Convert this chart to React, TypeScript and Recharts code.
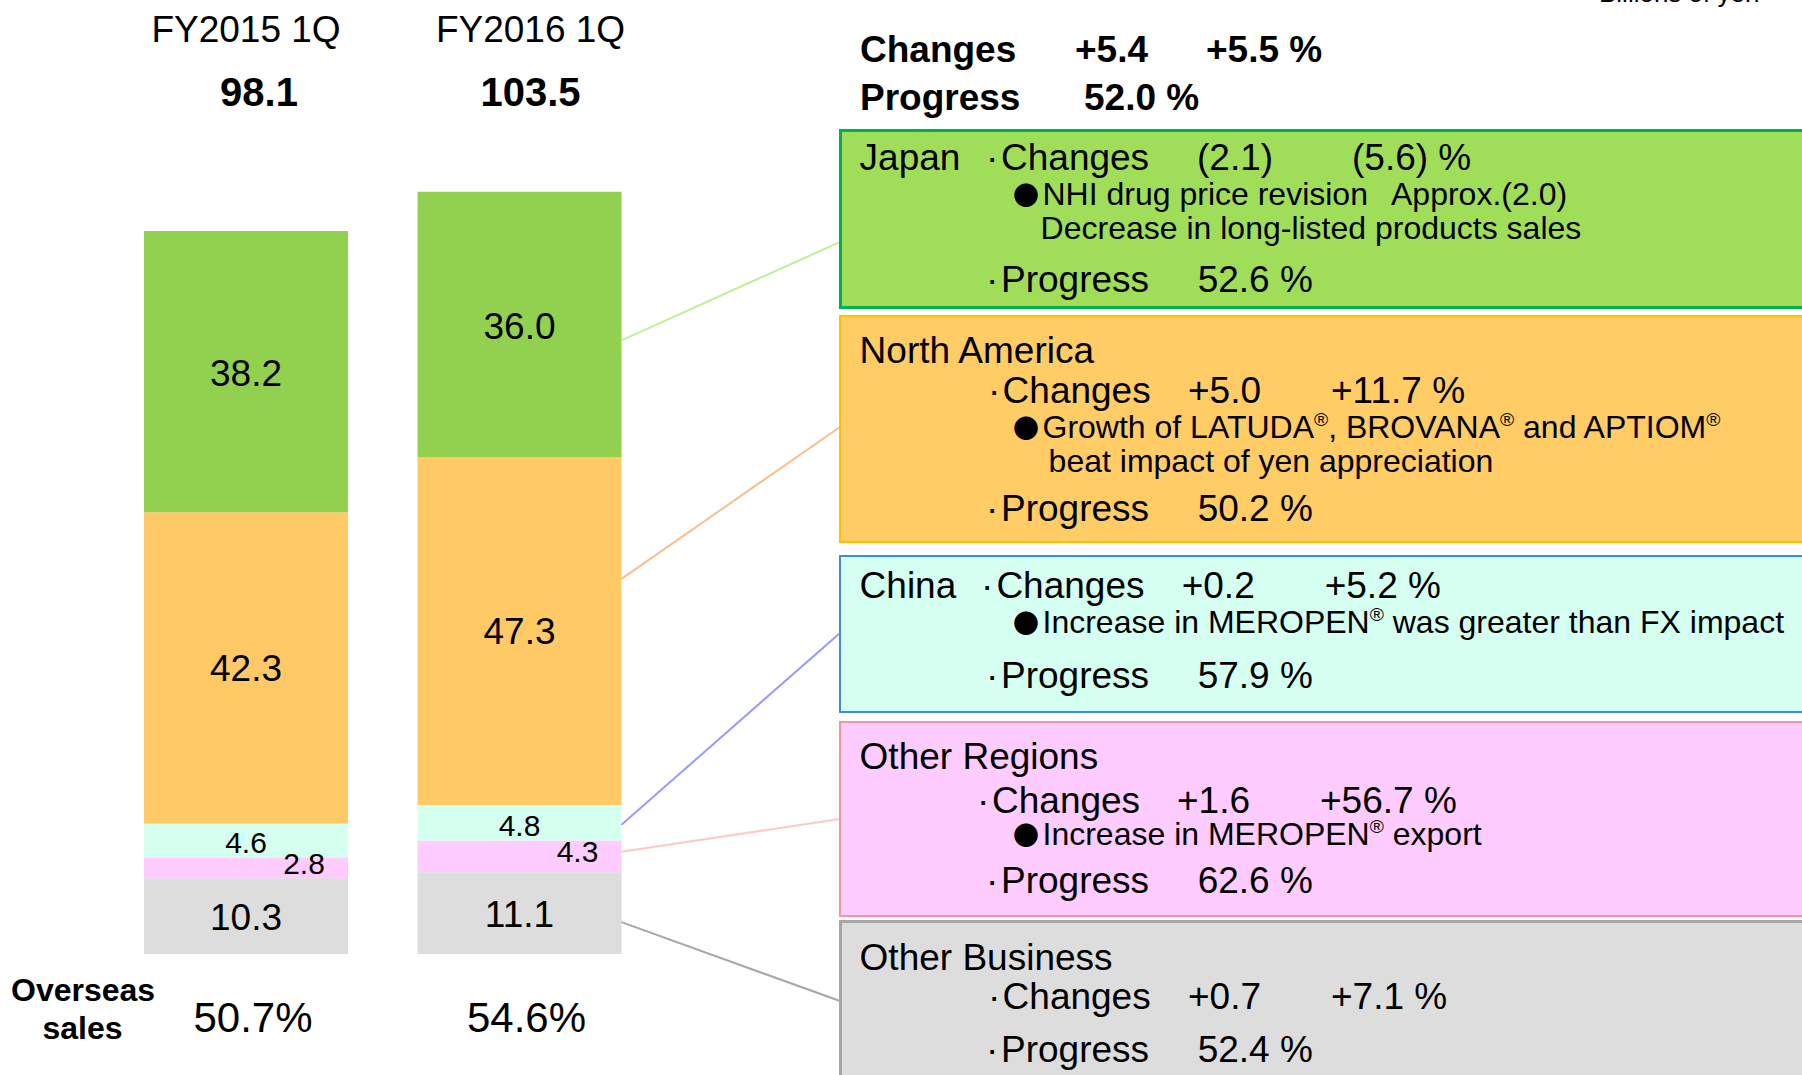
import React from "react";
import { BarChart, Bar, XAxis, YAxis, LabelList } from "recharts";

// values in billions of yen
const categories = ["FY2015 1Q", "FY2016 1Q"];
const totals = [98.1, 103.5];
const japan = [38.2, 36.0];
const northAmerica = [42.3, 47.3];
const china = [4.6, 4.8];
const otherRegions = [2.8, 4.3];
const otherBusiness = [10.3, 11.1];
const overseasShare = ["50.7%", "54.6%"];

const data = categories.map((name, i) => ({
  name,
  total: totals[i],
  japan: japan[i],
  northAmerica: northAmerica[i],
  china: china[i],
  otherRegions: otherRegions[i],
  otherBusiness: otherBusiness[i],
  overseas: overseasShare[i],
}));

const FONT = "'Liberation Sans', Arial, Helvetica, sans-serif";

// bottom to top stack order; anchor/target place the connector lines to the boxes
const series = [
  { key: "otherBusiness", fill: "#DDDDDD", line: "#A6A6A6", anchor: 0.61, target: 1001, size: 37, dx: 0, dy: 1 },
  { key: "otherRegions", fill: "#FFCCFF", line: "#FFC8C8", anchor: 0.35, target: 819, size: 30, dx: 58, dy: -5 },
  { key: "china", fill: "#D5FFEF", line: "#9999FF", anchor: 0.55, target: 633, size: 30, dx: 0, dy: 2 },
  { key: "northAmerica", fill: "#FFCA66", line: "#F8BE8C", anchor: 0.35, target: 427, size: 37, dx: 0, dy: 0 },
  { key: "japan", fill: "#92D050", line: "#C2EE96", anchor: 0.56, target: 242, size: 37, dx: 0, dy: 1 },
];

const BOX_LEFT = 839;

const rect = (props: any) => {
  const vb = props.viewBox || props;
  return {
    x: Number(vb.x ?? props.x),
    y: Number(vb.y ?? props.y),
    w: Number(vb.width ?? props.width),
    h: Number(vb.height ?? props.height),
  };
};

const SegLabel = (props: any) => {
  const { cfg, value, index } = props;
  const { x, y, w, h } = rect(props);
  const cx = x + w / 2 + cfg.dx;
  const cy = y + h / 2 + cfg.dy;
  return (
    <g>
      {index === 1 && (
        <line
          x1={x + w}
          y1={y + h * cfg.anchor}
          x2={BOX_LEFT + 1}
          y2={cfg.target}
          stroke={cfg.line}
          strokeWidth={2}
        />
      )}
      <text
        x={cx}
        y={cy + cfg.size * 0.358}
        textAnchor="middle"
        fontSize={cfg.size}
        fontFamily={FONT}
        fill="#000"
      >
        {Number(value).toFixed(1)}
      </text>
    </g>
  );
};

const titleDx = [0, 11];
const totalDx = [13, 11];

// category name and total above each column
const TopLabel = (props: any) => {
  const { index } = props;
  const { x, w } = rect(props);
  const i = index ?? 0;
  const cx = x + w / 2;
  return (
    <g>
      <text x={cx + titleDx[i]} y={41.7} textAnchor="middle" fontSize={37} fontFamily={FONT} fill="#000">
        {categories[i]}
      </text>
      <text x={cx + totalDx[i]} y={105.8} textAnchor="middle" fontSize={40} fontWeight={700} fontFamily={FONT} fill="#000">
        {totals[i].toFixed(1)}
      </text>
    </g>
  );
};

// overseas share under each column
const BottomLabel = (props: any) => {
  const { index } = props;
  const { x, w } = rect(props);
  const i = index ?? 0;
  return (
    <text x={x + w / 2 + 7} y={1032} textAnchor="middle" fontSize={42} fontFamily={FONT} fill="#000">
      {overseasShare[i]}
    </text>
  );
};

const Txt = ({ x, cy, size = 37, bold = false, font, children }: any) => (
  <div
    style={{
      position: "absolute",
      left: x,
      top: cy - 0.4385 * size,
      fontSize: size,
      lineHeight: `${size * 0.9}px`,
      fontWeight: bold ? 700 : 400,
      fontFamily: font,
      whiteSpace: "nowrap",
      color: "#000",
    }}
  >
    {children}
  </div>
);

const R = () => (
  <span style={{ fontSize: "0.6em", position: "relative", top: "-0.6em", lineHeight: 1 }}>®</span>
);

const Box = ({ top, height, fill, border, bw }: any) => (
  <div
    style={{
      position: "absolute",
      left: BOX_LEFT,
      top,
      width: 1100,
      height,
      boxSizing: "border-box",
      background: fill,
      border: `${bw}px solid ${border}`,
    }}
  />
);

const Dot = ({ x, cy }: any) => <Txt x={x} cy={cy}>·</Txt>;
const Bullet = ({ cy }: any) => (
  <Txt x={1013} cy={cy - 1} size={26} font="'Noto Sans CJK JP', 'DejaVu Sans', sans-serif">●</Txt>
);

export default function App() {
  return (
    <div
      style={{
        position: "absolute",
        left: 0,
        top: 0,
        width: 1802,
        height: 1075,
        overflow: "hidden",
        background: "#fff",
        fontFamily: FONT,
      }}
    >
      <div style={{ position: "absolute", left: 0, top: 0 }}>
        <BarChart
          width={1802}
          height={1075}
          data={data}
          margin={{ top: 144, right: 1146, bottom: 121, left: 109 }}
          barSize={204}
        >
          <XAxis dataKey="name" hide />
          <YAxis hide domain={[0, 110]} type="number" />
          {series.map((s) => (
            <Bar key={s.key} dataKey={s.key} stackId="sales" fill={s.fill} isAnimationActive={false}>
              <LabelList dataKey={s.key} content={(p: any) => <SegLabel {...p} cfg={s} />} />
              {s.key === "japan" && <LabelList dataKey="total" content={(p: any) => <TopLabel {...p} />} />}
              {s.key === "otherBusiness" && (
                <LabelList dataKey="overseas" content={(p: any) => <BottomLabel {...p} />} />
              )}
            </Bar>
          ))}
        </BarChart>
      </div>

      {/* overall summary */}
      <Txt x={1599} cy={-7} size={26}>Billions of yen</Txt>
      <Txt x={860} cy={49.5} bold>Changes</Txt>
      <Txt x={1075} cy={49.5} bold>+5.4</Txt>
      <Txt x={1206} cy={49.5} bold>+5.5 %</Txt>
      <Txt x={860} cy={97.5} bold>Progress</Txt>
      <Txt x={1084} cy={97.5} bold>52.0 %</Txt>

      <Txt x={11} cy={990.5} size={32} bold>Overseas</Txt>
      <Txt x={42.5} cy={1028.5} size={32} bold>sales</Txt>

      {/* Japan */}
      <Box top={129} height={180} fill="#A0DE5A" border="#00B050" bw={3} />
      <Txt x={859.6} cy={157.5}>Japan</Txt>
      <Dot x={986} cy={157.5} />
      <Txt x={1001} cy={157.5}>Changes</Txt>
      <Txt x={1197} cy={157.5}>(2.1)</Txt>
      <Txt x={1352} cy={157.5}>(5.6) %</Txt>
      <Bullet cy={194} />
      <Txt x={1042.5} cy={194} size={32}>NHI drug price revision</Txt>
      <Txt x={1391} cy={194} size={32}>Approx.(2.0)</Txt>
      <Txt x={1040.6} cy={228} size={32}>Decrease in long-listed products sales</Txt>
      <Dot x={986} cy={279.5} />
      <Txt x={1001} cy={279.5}>Progress</Txt>
      <Txt x={1197.7} cy={279.5}>52.6 %</Txt>

      {/* North America */}
      <Box top={315} height={228} fill="#FFCC66" border="#FFC000" bw={2} />
      <Txt x={859.6} cy={350}>North America</Txt>
      <Dot x={988} cy={390} />
      <Txt x={1002.6} cy={390}>Changes</Txt>
      <Txt x={1188} cy={390}>+5.0</Txt>
      <Txt x={1331} cy={390}>+11.7 %</Txt>
      <Bullet cy={427} />
      <Txt x={1042.5} cy={427} size={32}>
        Growth of LATUDA<R />, BROVANA<R /> and APTIOM<R />
      </Txt>
      <Txt x={1048.6} cy={461} size={32}>beat impact of yen appreciation</Txt>
      <Dot x={986} cy={508} />
      <Txt x={1001} cy={508}>Progress</Txt>
      <Txt x={1197.7} cy={508}>50.2 %</Txt>

      {/* China */}
      <Box top={555} height={158} fill="#D5FFF0" border="#3A8EE6" bw={2} />
      <Txt x={859.6} cy={585}>China</Txt>
      <Dot x={981} cy={585} />
      <Txt x={996.4} cy={585}>Changes</Txt>
      <Txt x={1181.7} cy={585}>+0.2</Txt>
      <Txt x={1324.7} cy={585}>+5.2 %</Txt>
      <Bullet cy={622} />
      <Txt x={1042.5} cy={622} size={32}>
        Increase in MEROPEN<R /> was greater than FX impact
      </Txt>
      <Dot x={986} cy={675.5} />
      <Txt x={1001} cy={675.5}>Progress</Txt>
      <Txt x={1197.7} cy={675.5}>57.9 %</Txt>

      {/* Other Regions */}
      <Box top={721} height={196} fill="#FFCCFF" border="#F4959E" bw={2} />
      <Txt x={859.6} cy={756.5}>Other Regions</Txt>
      <Dot x={977} cy={800} />
      <Txt x={992} cy={800}>Changes</Txt>
      <Txt x={1177} cy={800}>+1.6</Txt>
      <Txt x={1320} cy={800}>+56.7 %</Txt>
      <Bullet cy={834} />
      <Txt x={1042.5} cy={834} size={32}>
        Increase in MEROPEN<R /> export
      </Txt>
      <Dot x={986} cy={880.5} />
      <Txt x={1001} cy={880.5}>Progress</Txt>
      <Txt x={1197.7} cy={880.5}>62.6 %</Txt>

      {/* Other Business */}
      <Box top={920} height={200} fill="#DDDDDD" border="#A6A6A6" bw={3} />
      <Txt x={859.6} cy={957}>Other Business</Txt>
      <Dot x={988} cy={996} />
      <Txt x={1002.6} cy={996}>Changes</Txt>
      <Txt x={1188} cy={996}>+0.7</Txt>
      <Txt x={1331} cy={996}>+7.1 %</Txt>
      <Dot x={986} cy={1049} />
      <Txt x={1001} cy={1049}>Progress</Txt>
      <Txt x={1197.7} cy={1049}>52.4 %</Txt>
    </div>
  );
}
